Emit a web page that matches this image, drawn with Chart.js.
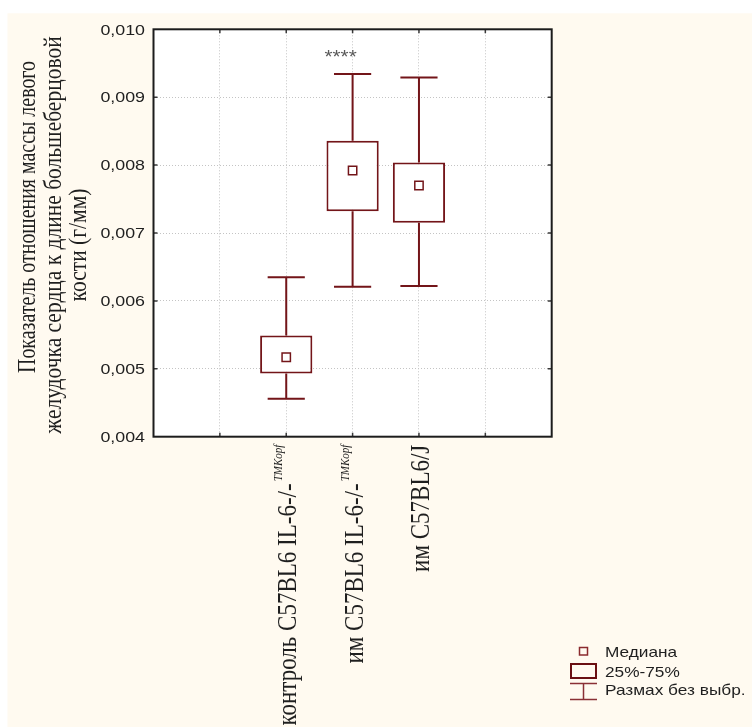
<!DOCTYPE html>
<html>
<head>
<meta charset="utf-8">
<script src="https://cdn.jsdelivr.net/npm/chart.js@4.4.1/dist/chart.umd.min.js"></script>
<style>
  html, body { margin: 0; padding: 0; background: #ffffff; }
  canvas { display: block; }
</style>
</head>
<body>
<canvas id="chart" width="752" height="727"></canvas>
<script>
// Groups along the x axis (positions 2..4 on a 0..6 axis)
const groups = ['контроль C57BL6 IL-6-/-', 'им C57BL6 IL-6-/-', 'им C57BL6/J'];
const groupSuperscripts = ['TMKopf', 'TMKopf', ''];
const groupPositions = [2, 3, 4];

// Box-plot statistics, g/mm
const whiskerLow  = [0.00456, 0.00621, 0.00622];
const quartile1   = [0.00493, 0.00732, 0.00715];
const medians     = [0.00517, 0.00792, 0.00770];
const quartile3   = [0.00549, 0.00836, 0.00804];
const whiskerHigh = [0.00635, 0.00934, 0.00929];
const significance = ['', '****', ''];

// Axis ticks
const yTicks = [0.004, 0.005, 0.006, 0.007, 0.008, 0.009, 0.010];
const xGridPositions = [1, 2, 3, 4, 5];

const yTitleLines = [
  'Показатель отношения массы левого',
  'желудочка сердца к длине большеберцовой',
  'кости (г/мм)'
];
const legendLabels = ['Медиана', '25%-75%', 'Размах без выбр.'];

const MAROON = '#731519';
const TEXT = '#1f1f1f';
const SANS = '"Liberation Sans", Arial, sans-serif';
const SERIF = '"Liberation Serif", "Times New Roman", serif';
const SX = 1.15; // horizontal glyph stretch

function drawText(ctx, text, x, y, font, color, align, baseline, rotated, maxWidth) {
  ctx.save();
  ctx.translate(x, y);
  ctx.scale(SX, 1);
  if (rotated) ctx.rotate(-Math.PI / 2);
  ctx.font = font;
  ctx.fillStyle = color;
  ctx.textAlign = align;
  ctx.textBaseline = baseline;
  if (maxWidth) ctx.fillText(text, 0, 0, maxWidth);
  else ctx.fillText(text, 0, 0);
  ctx.restore();
}

const boxExtras = {
  id: 'boxExtras',
  beforeDraw(chart) {
    const ctx = chart.ctx;
    ctx.save();
    ctx.fillStyle = '#ffffff';
    ctx.fillRect(0, 0, chart.width, chart.height);
    ctx.fillStyle = '#fffaf0';
    ctx.fillRect(7.5, 13.3, chart.width, chart.height);
    const a = chart.chartArea;
    ctx.fillStyle = '#ffffff';
    ctx.fillRect(a.left, a.top, a.right - a.left, a.bottom - a.top);
    ctx.restore();
  },
  beforeDatasetsDraw(chart) {
    const ctx = chart.ctx;
    const xs = chart.scales.x, ys = chart.scales.y;
    const capHalf = (xs.getPixelForValue(1) - xs.getPixelForValue(0)) * 0.28;
    ctx.save();
    ctx.strokeStyle = MAROON;
    ctx.lineWidth = 2;
    groupPositions.forEach((p, i) => {
      const x = xs.getPixelForValue(p);
      const lo = ys.getPixelForValue(whiskerLow[i]);
      const hi = ys.getPixelForValue(whiskerHigh[i]);
      const q1 = ys.getPixelForValue(quartile1[i]);
      const q3 = ys.getPixelForValue(quartile3[i]);
      ctx.beginPath();
      ctx.moveTo(x, lo); ctx.lineTo(x, q1);
      ctx.moveTo(x, q3); ctx.lineTo(x, hi);
      ctx.moveTo(x - capHalf, lo); ctx.lineTo(x + capHalf, lo);
      ctx.moveTo(x - capHalf, hi); ctx.lineTo(x + capHalf, hi);
      ctx.stroke();
    });
    ctx.restore();
  },
  afterDatasetsDraw(chart) {
    const ctx = chart.ctx;
    const a = chart.chartArea;
    const xs = chart.scales.x, ys = chart.scales.y;
    ctx.save();

    // inward tick marks
    ctx.strokeStyle = '#3a3a3a';
    ctx.lineWidth = 1.5;
    ctx.beginPath();
    yTicks.slice(1, -1).forEach(v => {
      const y = ys.getPixelForValue(v);
      ctx.moveTo(a.left, y); ctx.lineTo(a.left + 4, y);
      ctx.moveTo(a.right - 4, y); ctx.lineTo(a.right, y);
    });
    xGridPositions.forEach(v => {
      const x = xs.getPixelForValue(v);
      ctx.moveTo(x, a.top); ctx.lineTo(x, a.top + 4);
      ctx.moveTo(x, a.bottom - 4); ctx.lineTo(x, a.bottom);
    });
    ctx.stroke();

    // frame
    ctx.strokeStyle = '#1c1c1c';
    ctx.lineWidth = 2;
    ctx.strokeRect(a.left, a.top, a.right - a.left, a.bottom - a.top);

    // significance marks
    groupPositions.forEach((p, i) => {
      if (!significance[i]) return;
      const x = xs.getPixelForValue(p) - 12;
      drawText(ctx, significance[i], x, 62.9, '18px ' + SANS, '#5a5a5a', 'center', 'alphabetic', false);
    });

    // y tick labels
    yTicks.forEach(v => {
      const y = ys.getPixelForValue(v);
      drawText(ctx, v.toFixed(3).replace('.', ','), a.left - 8.5, y + 1,
        '15.5px ' + SANS, TEXT, 'right', 'middle', false);
    });

    // x category labels (rotated, with italic superscript)
    groupPositions.forEach((p, i) => {
      const x = xs.getPixelForValue(p) + 10;
      const yEnd = a.bottom + 8;
      ctx.save();
      ctx.translate(x, yEnd);
      ctx.scale(SX, 1);
      ctx.rotate(-Math.PI / 2);
      ctx.fillStyle = TEXT;
      ctx.textAlign = 'right';
      ctx.textBaseline = 'alphabetic';
      let offset = 0;
      if (groupSuperscripts[i]) {
        ctx.font = 'italic 11px ' + SERIF;
        ctx.fillText(groupSuperscripts[i], 0, -12);
        offset = ctx.measureText(groupSuperscripts[i]).width + 2;
      }
      ctx.font = '23px ' + SERIF;
      ctx.fillText(groups[i], -offset, 0);
      ctx.restore();
    });

    // y axis title
    const titleBaselines = [35, 60.5, 86];
    const titleCenters = [217, 235, 245];
    const titleWidths = [312, 0, 0];
    yTitleLines.forEach((line, i) => {
      drawText(ctx, line, titleBaselines[i], titleCenters[i], '21.5px ' + SERIF, TEXT,
        'center', 'alphabetic', true, titleWidths[i]);
    });

    // legend
    ctx.strokeStyle = '#8a2a2e';
    ctx.lineWidth = 1.5;
    ctx.strokeRect(579.5, 647.5, 8, 7.5);
    ctx.strokeStyle = '#6a0f12';
    ctx.lineWidth = 2;
    ctx.strokeRect(571, 664, 25, 14);
    ctx.strokeStyle = '#8a3035';
    ctx.lineWidth = 1.5;
    ctx.beginPath();
    ctx.moveTo(570, 683.5); ctx.lineTo(597, 683.5);
    ctx.moveTo(583.5, 683.5); ctx.lineTo(583.5, 699.5);
    ctx.moveTo(570, 699.5); ctx.lineTo(597, 699.5);
    ctx.stroke();
    const legendBaselines = [656.5, 676.5, 695];
    legendLabels.forEach((t, i) => {
      drawText(ctx, t, 605, legendBaselines[i], '15px ' + SANS, TEXT, 'left', 'alphabetic', false);
    });

    ctx.restore();
  }
};

const gridStyle = { color: '#c4c4c4', lineWidth: 1, drawTicks: false, offset: false };

new Chart(document.getElementById('chart'), {
  type: 'bar',
  data: {
    datasets: [
      {
        type: 'line',
        label: 'Медиана',
        data: groupPositions.map((p, i) => ({ x: p, y: medians[i] })),
        showLine: false,
        pointStyle: 'rect',
        pointRadius: 5.9,
        pointHoverRadius: 5.9,
        pointBorderWidth: 1.5,
        pointBackgroundColor: '#ffffff',
        pointBorderColor: MAROON,
        order: 0
      },
      {
        type: 'bar',
        label: '25%-75%',
        data: groupPositions.map((p, i) => ({ x: p, y: [quartile1[i], quartile3[i]] })),
        backgroundColor: '#ffffff',
        borderColor: MAROON,
        borderWidth: 2,
        borderSkipped: false,
        categoryPercentage: 1,
        barPercentage: 0.787,
        order: 1
      }
    ]
  },
  options: {
    responsive: false,
    animation: false,
    devicePixelRatio: 1,
    layout: { padding: { top: 29.3, right: 200.3, left: 0, bottom: 0 } },
    plugins: { legend: { display: false }, tooltip: { enabled: false } },
    scales: {
      x: {
        type: 'linear',
        min: 0,
        max: 6,
        offset: false,
        grid: gridStyle,
        border: { display: false, dash: [1, 2] },
        ticks: { display: false, stepSize: 1 },
        afterFit(scale) { scale.height = 290.3; }
      },
      y: {
        type: 'linear',
        min: 0.004,
        max: 0.010,
        grid: gridStyle,
        border: { display: false, dash: [1, 2] },
        ticks: { display: false, stepSize: 0.001 },
        afterFit(scale) { scale.width = 153.5; }
      }
    }
  },
  plugins: [boxExtras]
});
</script>
</body>
</html>
